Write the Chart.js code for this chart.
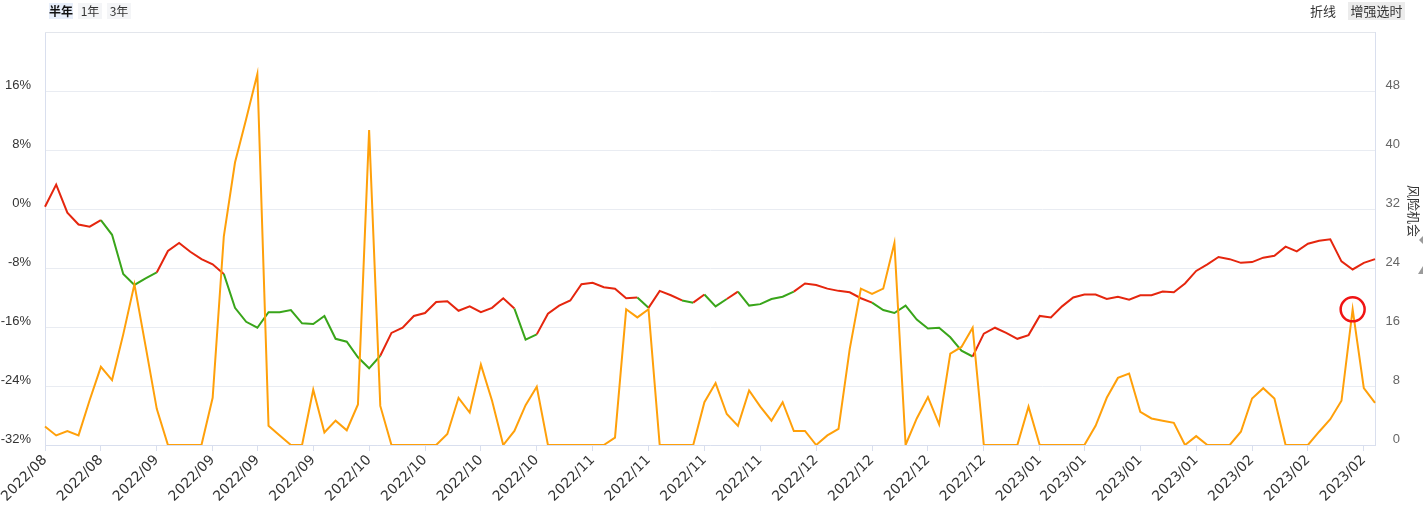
<!DOCTYPE html>
<html>
<head>
<meta charset="utf-8">
<script src="https://cdn.jsdelivr.net/npm/chart.js@4/dist/chart.umd.min.js"></script>
<style>
    body { margin: 0; background: #fff; font-family: 'Liberation Sans', 'Noto Sans CJK SC', sans-serif; }
    #wrap { position: relative; width: 1423px; height: 512px; }
    #chart { position: absolute; left: 0; top: 0; }
    .btn { position: absolute; top: 3px; height: 16px; line-height: 16px; font-size: 12px; text-align: center; color: #333; font-family: 'Noto Sans CJK SC', sans-serif; }
    .btn.on { background: #e7eefa; font-weight: bold; color: #111; }
    .btn.off { background: #f4f5f7; }
    .tool { position: absolute; top: 2px; height: 18px; line-height: 18px; font-size: 13px; color: #333; font-family: 'Noto Sans CJK SC', sans-serif; text-align: center; }
</style>
</head>
<body>
<div id="wrap">
    <canvas id="chart" width="1423" height="512"></canvas>
    <div class="btn on" style="left:49px;width:24px;">半年</div>
    <div class="btn off" style="left:78px;width:24px;">1年</div>
    <div class="btn off" style="left:107px;width:24px;">3年</div>
    <div class="tool" style="left:1308px;width:30px;">折线</div>
    <div class="tool" style="left:1348px;width:57px;background:#ececec;">增强选时</div>
</div>
<script>
const RED = '#e5260e';
const GREEN = '#39a51a';
const ORANGE = '#ffa00a';

// 指数走势 (左轴, %)
const score = [
    0.3, 3.3, -0.5, -2.1, -2.4, -1.5, -3.5, -8.8, -10.3, -9.4,
    -8.6, -5.7, -4.6, -5.8, -6.8, -7.5, -8.8, -13.4, -15.3, -16.1,
    -14.0, -14.0, -13.7, -15.5, -15.6, -14.5, -17.6, -18.0, -20.1, -21.6,
    -19.9, -16.8, -16.1, -14.5, -14.1, -12.6, -12.5, -13.8, -13.2, -14.0,
    -13.4, -12.1, -13.5, -17.7, -17.0, -14.2, -13.1, -12.4, -10.2, -10.0,
    -10.6, -10.8, -12.1, -12.0, -13.4, -11.1, -11.7, -12.4, -12.7, -11.6,
    -13.2, -12.2, -11.2, -13.1, -12.9, -12.2, -11.9, -11.2, -10.1, -10.3,
    -10.8, -11.1, -11.3, -12.1, -12.7, -13.7, -14.1, -13.1, -15.0, -16.2,
    -16.1, -17.4, -19.2, -20.0, -16.9, -16.1, -16.8, -17.6, -17.1, -14.5,
    -14.7, -13.2, -12.0, -11.6, -11.6, -12.2, -11.9, -12.3, -11.7, -11.7,
    -11.2, -11.3, -10.1, -8.4, -7.5, -6.5, -6.8, -7.3, -7.2, -6.6,
    -6.35, -5.1, -5.75, -4.7, -4.3, -4.1, -7.1, -8.2, -7.3, -6.8
];

// 风险机会 (右轴)
const risk = [
    2.5, 1.3, 1.9, 1.3, 6.1, 10.6, 8.8, 15.0, 21.8, 13.4,
    4.9, 0, 0, 0, 0, 6.4, 28.3, 38.3, 44.2, 50.3,
    2.6, 1.3, 0, 0, 7.5, 1.7, 3.3, 2.0, 5.5, 42.7,
    5.3, 0, 0, 0, 0, 0, 1.5, 6.4, 4.4, 10.9,
    6.0, 0, 1.9, 5.4, 7.9, 0, 0, 0, 0, 0,
    0, 1.0, 18.4, 17.3, 18.4, 0, 0, 0, 0, 5.8,
    8.4, 4.2, 2.6, 7.4, 5.2, 3.3, 5.8, 1.9, 1.9, 0,
    1.3, 2.2, 13.0, 21.2, 20.5, 21.2, 27.4, 0, 3.6, 6.5,
    2.8, 12.4, 13.3, 15.9, 0, 0, 0, 0, 5.2, 0,
    0, 0, 0, 0, 2.6, 6.4, 9.1, 9.7, 4.5, 3.6,
    3.3, 3.0, 0, 1.2, 0, 0, 0, 1.8, 6.3, 7.7,
    6.3, 0, 0, 0, 1.8, 3.5, 6.0, 18.4, 7.7, 5.7
];

// 走弱区间 [起, 止) 按点序号, 画绿色
const greenRuns = [[5, 10], [16, 30], [42, 44], [53, 54], [57, 58], [59, 61], [62, 67], [74, 83]];

// 圈出的信号点
const markIdx = 117;

const tickIdx = [0, 5, 10, 15, 19, 24, 29, 34, 39, 44, 49, 54, 59, 64, 69, 74, 79, 84, 89, 93, 98, 103, 108, 113, 118];
const tickText = [
    '2022/08', '2022/08', '2022/09', '2022/09', '2022/09', '2022/09', '2022/10', '2022/10', '2022/10', '2022/10',
    '2022/11', '2022/11', '2022/11', '2022/11', '2022/12', '2022/12', '2022/12', '2022/12',
    '2023/01', '2023/01', '2023/01', '2023/01', '2023/02', '2023/02', '2023/02'
];

const AXIS_LINE = '#d9dfee';
const GRID_LINE = '#e9ecf2';

const isGreen = (i) => greenRuns.some(([a, b]) => i >= a && i < b);

const frame = {
    id: 'frame',
    afterDraw(chart) {
        const { ctx, chartArea } = chart;
        ctx.save();
        ctx.strokeStyle = '#e3e6ec';
        ctx.lineWidth = 1;
        ctx.beginPath();
        ctx.moveTo(chartArea.left, chartArea.top + 0.5);
        ctx.lineTo(chartArea.right, chartArea.top + 0.5);
        ctx.stroke();

        // 右轴标题
        ctx.translate(1414, 211);
        ctx.rotate(Math.PI / 2);
        ctx.fillStyle = '#333';
        ctx.font = '13px "Noto Sans CJK SC"';
        ctx.textAlign = 'center';
        ctx.textBaseline = 'middle';
        ctx.fillText('风险机会', 0, 0);
        ctx.restore();

        // 右侧边缘的小箭头
        ctx.save();
        ctx.fillStyle = '#9a9a9a';
        ctx.beginPath();
        ctx.moveTo(1423, 236); ctx.lineTo(1419, 240); ctx.lineTo(1423, 244);
        ctx.fill();
        ctx.beginPath();
        ctx.moveTo(1423, 266); ctx.lineTo(1423, 274); ctx.lineTo(1418, 274);
        ctx.fill();
        ctx.restore();
    }
};

Chart.defaults.font.family = '"Liberation Sans", sans-serif';

new Chart(document.getElementById('chart'), {
    type: 'line',
    data: {
        labels: score.map((_, i) => i),
        datasets: [
            {
                label: '风险机会',
                data: risk,
                yAxisID: 'y1',
                borderColor: ORANGE,
                borderWidth: 2,
                tension: 0,
                pointRadius: (c) => (c.dataIndex === markIdx ? 12 : 0),
                pointBorderColor: '#f01414',
                pointBorderWidth: 2.5,
                pointBackgroundColor: 'rgba(0,0,0,0)',
            },
            {
                label: '指数',
                data: score,
                yAxisID: 'y',
                borderColor: RED,
                borderWidth: 2,
                tension: 0,
                pointRadius: 0,
                segment: {
                    borderColor: (c) => (isGreen(c.p0DataIndex) ? GREEN : RED),
                },
            },
        ],
    },
    options: {
        responsive: false,
        animation: false,
        events: [],
        devicePixelRatio: 1,
        layout: { padding: { top: 32, right: 23, left: 0, bottom: 0 } },
        plugins: {
            legend: { display: false },
            tooltip: { enabled: false },
        },
        scales: {
            x: {
                type: 'category',
                afterFit: (s) => { s.height = 67; },
                afterBuildTicks: (s) => { s.ticks = tickIdx.map((v) => ({ value: v })); },
                border: { color: AXIS_LINE, width: 1 },
                grid: { drawOnChartArea: false, drawTicks: true, tickLength: 6, color: AXIS_LINE },
                ticks: {
                    autoSkip: false,
                    maxRotation: 45,
                    minRotation: 45,
                    padding: 1,
                    color: '#333',
                    font: { family: '"DejaVu Sans"', size: 14 },
                    callback: (v, i) => tickText[i],
                },
            },
            y: {
                position: 'left',
                min: -32,
                max: 24,
                afterFit: (s) => { s.width = 45; },
                border: { color: AXIS_LINE, width: 1 },
                grid: { color: GRID_LINE, drawTicks: false },
                ticks: {
                    stepSize: 8,
                    padding: 14,
                    labelOffset: -6,
                    color: '#333',
                    font: { size: 13 },
                    callback: (v) => (v === 24 ? '' : v + '%'),
                },
            },
            y1: {
                position: 'right',
                min: 0,
                max: 56,
                afterFit: (s) => { s.width = 25; },
                border: { color: AXIS_LINE, width: 1 },
                grid: { drawOnChartArea: false, drawTicks: false },
                ticks: {
                    stepSize: 8,
                    padding: 10,
                    crossAlign: 'far',
                    labelOffset: -6,
                    color: '#666',
                    font: { size: 13 },
                    callback: (v) => (v === 56 ? '' : String(v)),
                },
            },
        },
    },
    plugins: [frame],
});
</script>
</body>
</html>
